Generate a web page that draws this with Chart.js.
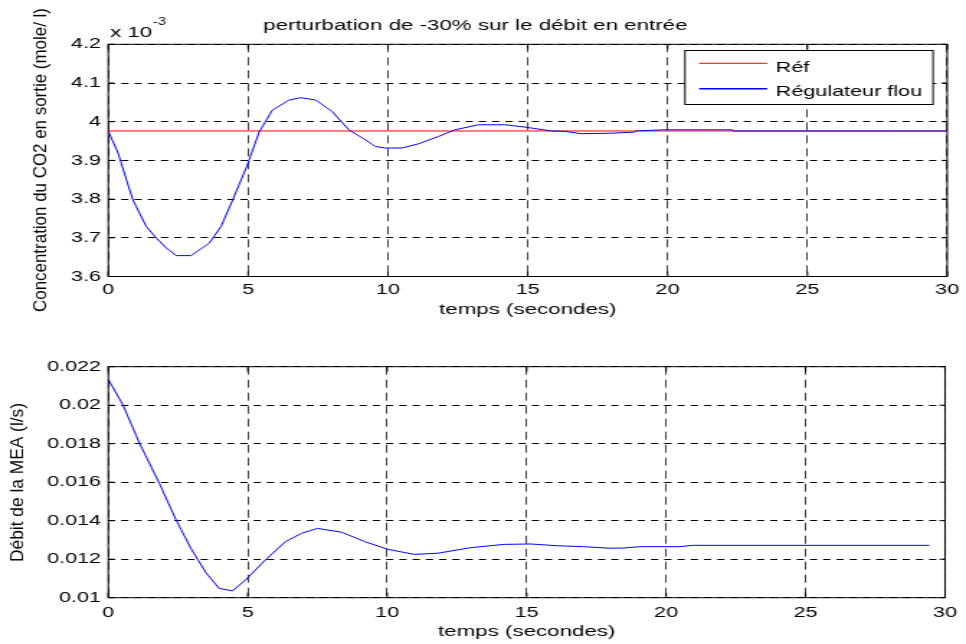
<!DOCTYPE html>
<html>
<head>
    <title>Perturbation -30% débit</title>
    <script src="https://cdn.jsdelivr.net/npm/chart.js"></script>
    <style>
        body { margin: 0; background: #fff; }
        canvas { display: block; }
    </style>
</head>
<body>
    <canvas id="concChart" width="671" height="322" style="width:966px;height:322px"></canvas>
    <canvas id="flowChart" width="671" height="322" style="width:966px;height:322px"></canvas>
    <script>
        // data
        const xTicks = [0, 5, 10, 15, 20, 25, 30];
        const xTickLabels = ["0", "5", "10", "15", "20", "25", "30"];

        const concTicks = [3.6, 3.7, 3.8, 3.9, 4.0, 4.1, 4.2];
        const concTickLabels = ["3.6", "3.7", "3.8", "3.9", "4", "4.1", "4.2"];
        const flowTicks = [0.010, 0.012, 0.014, 0.016, 0.018, 0.020, 0.022];
        const flowTickLabels = ["0.01", "0.012", "0.014", "0.016", "0.018", "0.02", "0.022"];

        // concentration (x 10^-3 mole/l)
        const refTime = [0, 30];
        const refConc = [3.976, 3.976];
        const concTime = [0, 0.35, 0.65, 0.88, 1.36, 1.72, 2.07, 2.43, 2.96, 3.61, 4.03, 4.45, 4.95, 5.40, 5.87, 6.47, 6.88, 7.42, 8.01, 8.60, 9.20, 9.55, 9.91, 10.50, 11.10, 11.81, 12.40, 13.23, 14.19, 14.90, 15.85, 16.32, 16.92, 17.87, 18.82, 18.85, 19.83, 22.32, 22.35, 30];
        const concValues = [3.976, 3.919, 3.850, 3.798, 3.729, 3.699, 3.674, 3.654, 3.654, 3.686, 3.729, 3.798, 3.884, 3.974, 4.030, 4.056, 4.062, 4.056, 4.026, 3.979, 3.953, 3.936, 3.932, 3.932, 3.943, 3.962, 3.979, 3.992, 3.992, 3.986, 3.976, 3.975, 3.969, 3.970, 3.973, 3.976, 3.979, 3.979, 3.976, 3.976];

        // MEA flow (l/s)
        const flowTime = [0, 0.53, 1.12, 1.83, 2.43, 2.96, 3.50, 3.97, 4.45, 4.92, 5.63, 6.35, 6.94, 7.50, 8.37, 9.20, 10.03, 10.97, 11.81, 13.0, 14.19, 15.14, 16.09, 17.04, 17.99, 18.46, 19.05, 20.48, 20.95, 29.44];
        const flowValues = [0.02135, 0.0200, 0.01802, 0.01594, 0.01404, 0.01257, 0.01130, 0.01049, 0.01035, 0.01092, 0.01196, 0.01291, 0.01335, 0.01360, 0.01340, 0.01291, 0.01251, 0.01225, 0.01231, 0.01260, 0.01277, 0.01279, 0.01270, 0.01265, 0.01257, 0.01258, 0.01265, 0.01265, 0.01272, 0.01272];

        const FONT = '"Liberation Sans", Arial, sans-serif';
        Chart.defaults.font.family = FONT;
        Chart.defaults.color = "#000";

        function pts(xs, ys) { return xs.map((x, i) => ({ x: x, y: ys[i] })); }
        function setTicks(values) {
            return scale => { scale.ticks = values.map(v => ({ value: v })); };
        }

        // axes box + inward tick marks, like matlab
        const boxPlugin = {
            id: "box",
            afterDraw(chart) {
                const a = chart.chartArea, ctx = chart.ctx;
                const xs = chart.scales.x, ys = chart.scales.y;
                ctx.save();
                ctx.strokeStyle = "#000";
                ctx.lineWidth = 1;
                ctx.beginPath();
                xs.ticks.forEach(t => {
                    const px = xs.getPixelForValue(t.value);
                    ctx.moveTo(px, a.bottom); ctx.lineTo(px, a.bottom - 5);
                    ctx.moveTo(px, a.top); ctx.lineTo(px, a.top + 5);
                });
                ys.ticks.forEach(t => {
                    const py = ys.getPixelForValue(t.value);
                    ctx.moveTo(a.left, py); ctx.lineTo(a.left + 4, py);
                    ctx.moveTo(a.right, py); ctx.lineTo(a.right - 4, py);
                });
                ctx.stroke();
                ctx.strokeRect(a.left, a.top, a.right - a.left, a.bottom - a.top);
                ctx.restore();
            }
        };

        // rotated, condensed y label
        function yLabel(text, cx, cy, length) {
            return {
                id: "ylabel",
                afterDraw(chart) {
                    const ctx = chart.ctx;
                    ctx.save();
                    ctx.font = "13px " + FONT;
                    ctx.fillStyle = "#000";
                    ctx.textAlign = "center";
                    ctx.textBaseline = "middle";
                    const w = ctx.measureText(text).width;
                    ctx.translate(cx, cy);
                    ctx.rotate(-Math.PI / 2);
                    ctx.scale(length / w, 1);
                    ctx.fillText(text, 0, 0);
                    ctx.restore();
                }
            };
        }

        const exponentPlugin = {
            id: "exponent",
            afterDraw(chart) {
                const ctx = chart.ctx;
                ctx.save();
                ctx.fillStyle = "#000";
                ctx.textBaseline = "alphabetic";
                ctx.font = "15.5px " + FONT;
                ctx.fillText("x 10", 76.4, 36.7);
                ctx.font = "10px " + FONT;
                ctx.fillText("-3", 106.3, 25);
                ctx.restore();
            }
        };

        const legendPlugin = {
            id: "matlabLegend",
            afterDraw(chart) {
                const ctx = chart.ctx;
                const ds = chart.data.datasets;
                ctx.save();
                ctx.fillStyle = "#fff";
                ctx.fillRect(475.8, 50, 172.3, 54);
                ctx.strokeStyle = "#000";
                ctx.lineWidth = 1;
                ctx.strokeRect(475.8, 50.5, 172.3, 54);
                const rows = [{ d: ds[1], y: 63.3, base: 71.5 }, { d: ds[0], y: 88.7, base: 95.8 }];
                ctx.font = "15px " + FONT;
                ctx.textBaseline = "alphabetic";
                rows.forEach(r => {
                    ctx.strokeStyle = r.d.borderColor;
                    ctx.lineWidth = r.d === ds[0] ? 1.5 : 1;
                    ctx.beginPath();
                    ctx.moveTo(485.6, r.y);
                    ctx.lineTo(532.9, r.y);
                    ctx.stroke();
                    ctx.fillStyle = "#000";
                    ctx.fillText(r.d.label, 538.8, r.base);
                });
                ctx.restore();
            }
        };

        function makeChart(id, cfg) {
            return new Chart(document.getElementById(id), {
                type: "line",
                data: { datasets: cfg.datasets },
                options: {
                    responsive: false,
                    devicePixelRatio: 1,
                    animation: false,
                    layout: { padding: { top: cfg.padTop, left: 0, right: 10.6, bottom: 0 } },
                    plugins: {
                        legend: { display: false },
                        tooltip: { enabled: false },
                        title: cfg.title
                    },
                    elements: { point: { radius: 0 }, line: { tension: 0, borderWidth: 1 } },
                    scales: {
                        x: {
                            type: "linear",
                            min: 0, max: 30,
                            afterBuildTicks: setTicks(xTicks),
                            afterFit: s => { s.height = cfg.xHeight; },
                            border: { display: false, dash: [8, 5] },
                            grid: { color: "rgba(0,0,0,0.75)", drawTicks: false },
                            ticks: {
                                padding: cfg.xTickPad,
                                maxRotation: 0,
                                font: { size: 15 },
                                callback: (v, i) => xTickLabels[i]
                            },
                            title: {
                                display: true,
                                text: "temps (secondes)",
                                font: { size: 15.5 },
                                padding: { top: 0, bottom: 3.1 }
                            }
                        },
                        y: {
                            min: cfg.yTicks[0],
                            max: cfg.yTicks[cfg.yTicks.length - 1],
                            afterBuildTicks: setTicks(cfg.yTicks),
                            afterFit: s => { s.width = 75.2; },
                            border: { display: false, dash: [5, 4.2] },
                            grid: { color: "#000", drawTicks: false },
                            ticks: {
                                padding: 5,
                                font: { size: 15 },
                                callback: (v, i) => cfg.yLabels[i]
                            }
                        }
                    }
                },
                plugins: cfg.plugins
            });
        }

        makeChart("concChart", {
            datasets: [
                { label: "Régulateur flou", data: pts(concTime, concValues), borderColor: "#0000ff", order: 0 },
                { label: "Réf", data: pts(refTime, refConc), borderColor: "#ff0000", order: 1 }
            ],
            padTop: 0,
            title: {
                display: true,
                text: "perturbation de -30% sur le débit en entrée",
                font: { size: 15.5, weight: "normal" },
                padding: { top: 16, bottom: 9.7 }
            },
            xHeight: 45.5,
            xTickPad: 4.7,
            yTicks: concTicks,
            yLabels: concTickLabels,
            plugins: [boxPlugin, exponentPlugin, legendPlugin,
                yLabel("Concentration du CO2 en sortie (mole/ l)", 28.8, 160, 304)]
        });

        makeChart("flowChart", {
            datasets: [
                { label: "Débit MEA", data: pts(flowTime, flowValues), borderColor: "#0000ff" }
            ],
            padTop: 44.7,
            title: { display: false },
            xHeight: 46.3,
            xTickPad: 6.2,
            yTicks: flowTicks,
            yLabels: flowTickLabels,
            plugins: [boxPlugin, yLabel("Débit de la MEA (l/s)", 12.8, 160.5, 159)]
        });
    </script>
</body>
</html>
